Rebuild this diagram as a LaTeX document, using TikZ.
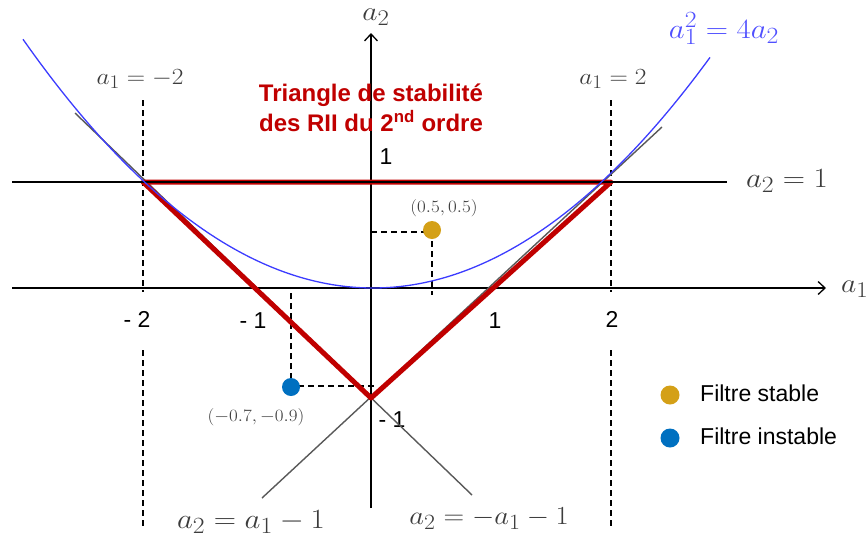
\documentclass[tikz,border=0pt]{standalone}
\usepackage{fontspec}
\setsansfont{Liberation Sans}
\usetikzlibrary{arrows.meta}
\definecolor{stabred}{RGB}{192,0,0}
\definecolor{curveblue}{RGB}{60,60,255}
\definecolor{labblue}{RGB}{80,80,255}
\definecolor{labgray}{RGB}{60,60,60}
\definecolor{dotgold}{RGB}{212,160,23}
\definecolor{dotblue}{RGB}{0,112,192}
\newcommand{\wide}[1]{\scalebox{1.1}[1]{#1}}
\newcommand{\mtext}[3]{\scalebox{#1}[#2]{\fontsize{24.88}{30}\selectfont$#3$}}
\begin{document}
\begin{tikzpicture}[x=1pt,y=-1pt,
  axisline/.style={line width=1.3pt,-{Straight Barb[length=7pt,width=13pt,line width=1.3pt]}},
  guide/.style={dash pattern=on 6pt off 4pt,line width=1.2pt},
  grayline/.style={black!65,line width=1.4pt},
  tri/.style={stabred,line width=5pt,line join=round},
  hline/.style={line width=1.3pt},
  curve/.style={curveblue,line width=1.3pt},
  mlab/.style={text=labgray,inner sep=0pt},
  ticklab/.style={font=\sffamily\fontsize{23}{27}\selectfont,inner sep=1pt},
  tickbox/.style={ticklab,fill=white,minimum height=54pt},
  pdot/.style={circle,inner sep=0pt,minimum size=18pt},
  legtext/.style={font=\sffamily\fontsize{23}{27}\selectfont,anchor=base west,inner sep=0pt}]
\useasboundingbox (0,0) rectangle (868,542);
% coordinates
\coordinate (O) at (371,288);
\coordinate (xL) at (12,288);
\coordinate (xR) at (826,288);
\coordinate (yB) at (371,508);
\coordinate (yT) at (371,33);
\coordinate (hL) at (12,182);
\coordinate (hR) at (727,182);
\coordinate (A) at (143,182);
\coordinate (B) at (611,182);
\coordinate (C) at (371,398);
\coordinate (gLa) at (75,113);
\coordinate (gLb) at (472,495);
\coordinate (gRa) at (662,127);
\coordinate (gRb) at (262,498);
\coordinate (dLt) at (143,100);
\coordinate (dLb) at (143,527);
\coordinate (dRt) at (611,100);
\coordinate (dRb) at (611,527);
\coordinate (q1a) at (371,232);
\coordinate (q1b) at (432,232);
\coordinate (q1c) at (432,295);
\coordinate (q2a) at (291,386);
\coordinate (q2b) at (374,386);
\coordinate (q2c) at (291,288);
% dashed guides
\draw[guide] (dLt) -- (dLb);
\draw[guide] (dRt) -- (dRb);
\draw[guide] (q1a) -- (q1b) -- (q1c);
\draw[guide] (q2b) -- (q2a) -- (q2c);
% tick labels (white boxes interrupt the dashed guides)
\node[tickbox] (tm2) at (137,319) {- 2};
\node[tickbox] (tp2) at (612,319) {2};
\node[ticklab] (tm1) at (253,321) {- 1};
\node[ticklab] (tp1) at (495,321) {1};
\node[ticklab] (ty1) at (386,157) {1};
\node[ticklab] (tym1) at (392,420) {- 1};
% axes
\draw[axisline] (xL) -- (xR);
\draw[axisline] (yB) -- (yT);
% gray lines
\draw[grayline] (gLa) -- (gLb);
\draw[grayline] (gRa) -- (gRb);
% red triangle
\draw[tri] (A) -- (B) -- (C) -- cycle;
% a2 = 1 line
\draw[hline] (hL) -- (hR);
% parabola
\draw[curve,domain=23:710,samples=90,smooth] plot (\x,{288-(0.04506*(\x-373))^2});
% points
\node[pdot,fill=dotgold] (p1) at (432,230) {};
\node[pdot,fill=dotblue] (p2) at (291,387) {};
\node[mlab,font=\fontsize{17}{20}\selectfont] (p1lab) at (444,208) {\wide{$(0.5,0.5)$}};
\node[mlab,font=\fontsize{17}{20}\selectfont] (p2lab) at (256,417) {\wide{$(-0.7,-0.9)$}};
% math labels
\node[mlab] (lm2) at (140,79) {\mtext{1.02}{0.93}{a_1=-2}};
\node[mlab] (lp2) at (613,79) {\mtext{1.02}{0.93}{a_1=2}};
\node[mlab] (lh) at (787,181) {\mtext{1.24}{1.12}{a_2=1}};
\node[inner sep=0pt,text=labblue] (lpar) at (724,29) {\mtext{1.24}{1.12}{a_1^2=4a_2}};
\node[mlab] (lgl) at (251,522) {\mtext{1.24}{1.12}{a_2=a_1-1}};
\node[mlab] (lgr) at (489,519) {\mtext{1.15}{1.05}{a_2=-a_1-1}};
\node[mlab] (ax2) at (376,17) {\mtext{1.19}{1.08}{a_2}};
\node[mlab,anchor=west] (ax1) at (841,289) {\mtext{1.19}{1.08}{a_1}};
% title
\node[text=stabred,font=\sffamily\bfseries\fontsize{24}{30}\selectfont,align=center,inner sep=0pt] (title) at (371,108) {Triangle de stabilité\\des RII du 2\textsuperscript{nd} ordre};
% legend
\node[pdot,fill=dotgold,minimum size=19pt] (lg1) at (670,395) {};
\node[pdot,fill=dotblue,minimum size=19pt] (lg2) at (670,438) {};
\node[legtext] (lt1) at (700,401) {Filtre stable};
\node[legtext] (lt2) at (700,444) {Filtre instable};
\end{tikzpicture}
\end{document}
